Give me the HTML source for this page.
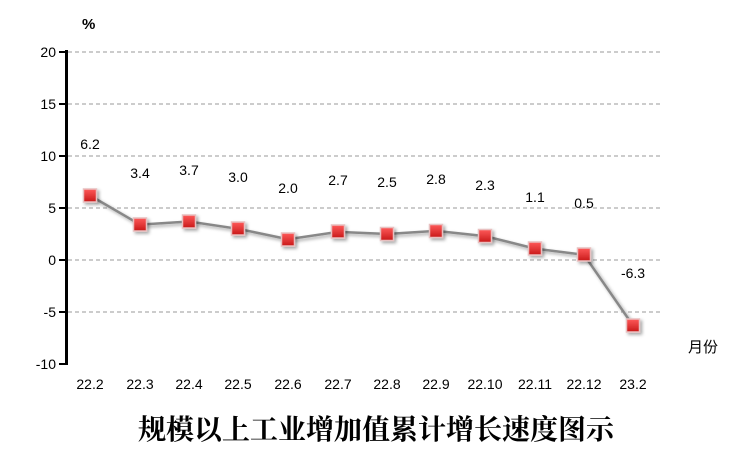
<!DOCTYPE html>
<html><head><meta charset="utf-8"><style>body{margin:0;background:#fff}svg{display:block}</style></head><body>
<svg width="740" height="463" xmlns="http://www.w3.org/2000/svg" font-family="Liberation Sans, DejaVu Sans, sans-serif">
<defs><linearGradient id="g" x1="0" y1="0" x2="0" y2="1"><stop offset="0" stop-color="#ff5a5a"/><stop offset="1" stop-color="#c81818"/></linearGradient>
<filter id="s"><feDropShadow dx="2" dy="2" stdDeviation="1.5" flood-color="#000" flood-opacity="0.35"/></filter></defs>
<g stroke="#999" stroke-dasharray="4,3" stroke-width="1">
<line x1="68" y1="52" x2="660" y2="52"/><line x1="68" y1="104" x2="660" y2="104"/><line x1="68" y1="156" x2="660" y2="156"/><line x1="68" y1="208" x2="660" y2="208"/><line x1="68" y1="260" x2="660" y2="260"/><line x1="68" y1="312" x2="660" y2="312"/>
</g>
<line x1="66.5" y1="50" x2="66.5" y2="365" stroke="#000" stroke-width="3"/>
<g stroke="#000" stroke-width="2"><line x1="59" y1="52" x2="66" y2="52"/><line x1="59" y1="104" x2="66" y2="104"/><line x1="59" y1="156" x2="66" y2="156"/><line x1="59" y1="208" x2="66" y2="208"/><line x1="59" y1="260" x2="66" y2="260"/><line x1="59" y1="312" x2="66" y2="312"/><line x1="59" y1="364" x2="66" y2="364"/></g>
<g font-size="14" text-anchor="end" fill="#000"><text x="56" y="57">20</text><text x="56" y="109">15</text><text x="56" y="161">10</text><text x="56" y="213">5</text><text x="56" y="265">0</text><text x="56" y="317">-5</text><text x="56" y="369">-10</text></g>
<text x="82" y="29" font-size="15" font-weight="bold">%</text>
<polyline fill="none" stroke="#888" stroke-width="2.5" filter="url(#s)" points="90,195.5 140,224.6 189,221.5 238,228.8 288,239.2 338,231.9 387,234 436,230.9 485,236.1 535,248.6 584,254.8 633,325.5"/>
<g fill="url(#g)" stroke="#e8c0c0" stroke-width="1.5" filter="url(#s)">
<rect x="83.5" y="189" width="13" height="13"/><rect x="133.5" y="218" width="13" height="13"/><rect x="182.5" y="215" width="13" height="13"/><rect x="231.5" y="222" width="13" height="13"/><rect x="281.5" y="233" width="13" height="13"/><rect x="331.5" y="225" width="13" height="13"/><rect x="380.5" y="227.5" width="13" height="13"/><rect x="429.5" y="224.5" width="13" height="13"/><rect x="478.5" y="229.5" width="13" height="13"/><rect x="528.5" y="242" width="13" height="13"/><rect x="577.5" y="248" width="13" height="13"/><rect x="626.5" y="319" width="13" height="13"/>
</g>
<g font-size="14" text-anchor="middle" fill="#000">
<text x="90" y="149">6.2</text><text x="140" y="178">3.4</text><text x="189" y="175">3.7</text><text x="238" y="182">3.0</text><text x="288" y="193">2.0</text><text x="338" y="185">2.7</text><text x="387" y="187">2.5</text><text x="436" y="184">2.8</text><text x="485" y="190">2.3</text><text x="535" y="202">1.1</text><text x="584" y="208">0.5</text><text x="633" y="278">-6.3</text>
<text x="90" y="389">22.2</text><text x="140" y="389">22.3</text><text x="189" y="389">22.4</text><text x="238" y="389">22.5</text><text x="288" y="389">22.6</text><text x="338" y="389">22.7</text><text x="387" y="389">22.8</text><text x="436" y="389">22.9</text><text x="485" y="389">22.10</text><text x="535" y="389">22.11</text><text x="584" y="389">22.12</text><text x="633" y="389">23.2</text>
</g>
<text x="688" y="352" font-size="15" font-family="Liberation Sans, Noto Sans CJK SC, sans-serif">月份</text>
<text x="376" y="439" font-size="28" font-weight="bold" text-anchor="middle" font-family="Liberation Serif, Noto Serif CJK SC, serif">规模以上工业增加值累计增长速度图示</text>
</svg>
</body></html>
